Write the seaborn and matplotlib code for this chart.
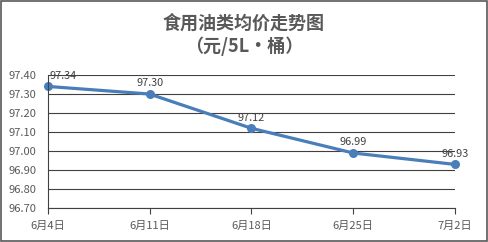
import matplotlib
matplotlib.use("Agg")
import matplotlib.pyplot as plt
import seaborn as sns
import pandas as pd

dates = ["6月4日", "6月11日", "6月18日", "6月25日", "7月2日"]
prices = [97.34, 97.30, 97.12, 96.99, 96.93]
yticks = [96.70, 96.80, 96.90, 97.00, 97.10, 97.20, 97.30, 97.40]
title = "食用油类均价走势图\n（元/5L·桶）"

sns.set_style("white")
plt.rcParams['font.family'] = ['Noto Sans CJK SC', 'DejaVu Sans']

df = pd.DataFrame({"date": dates, "price": prices, "x": range(len(dates))})

fig = plt.figure(figsize=(4.88, 2.42), dpi=100)
ax = fig.add_axes([0.098, 0.140, 0.834, 0.550])

sns.lineplot(data=df, x="x", y="price", ax=ax, color="#4A7EBB", linewidth=2.3,
             marker="o", markersize=6.5, markeredgewidth=0, clip_on=False)

for i, (xi, v) in enumerate(zip(df["x"], df["price"])):
    dx = 11 if i == 0 else 0
    ax.annotate(f"{v:.2f}", (xi, v), xytext=(dx, 4), textcoords="offset points",
                ha="center", va="bottom", fontsize=7.8, color="#404040")

ax.set_xlim(0, len(dates) - 1)
ax.set_ylim(96.70, 97.40)
ax.set_xticks(list(df["x"]))
ax.set_xticklabels(dates)
ax.set_yticks(yticks)
ax.set_yticklabels([f"{t:.2f}" for t in yticks])
ax.grid(axis="y", color="#404040", linewidth=0.8)
ax.set_axisbelow(True)
for s in ["top", "right"]:
    ax.spines[s].set_visible(False)
for s in ["left", "bottom"]:
    ax.spines[s].set_color("#404040")
    ax.spines[s].set_linewidth(0.8)
ax.tick_params(axis="x", length=4, width=0.8, color="#404040", labelsize=8,
               labelcolor="#595959", bottom=True, pad=5)
ax.tick_params(axis="y", length=0, labelsize=8, labelcolor="#595959", pad=8)
ax.set_xlabel("")
ax.set_ylabel("")

fig.text(0.5, 0.855, title, ha="center", va="center", fontsize=13,
         color="#595959", fontweight="bold", linespacing=1.25)

border = plt.Rectangle((0.002, 0.004), 0.996, 0.992, transform=fig.transFigure,
                       fill=False, edgecolor="#595959", linewidth=1.2)
fig.patches.append(border)

fig.savefig("out.png", dpi=100, facecolor="white")
